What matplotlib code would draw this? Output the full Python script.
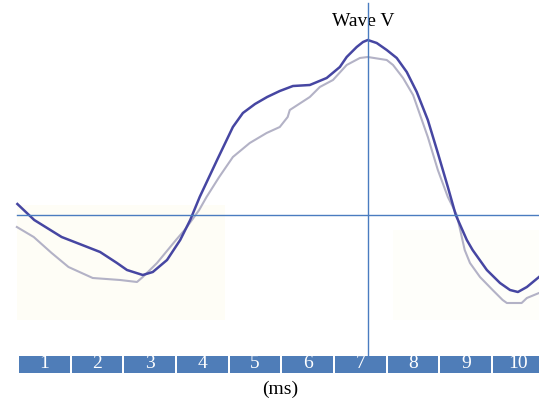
import numpy as np
import matplotlib.pyplot as plt
from matplotlib.patches import Rectangle

# curves: time (ms) and amplitude (arbitrary units, 0 = baseline)
t_dark = np.array([-0.03, 0.29, 0.81, 1.20, 1.54, 1.86, 2.05, 2.35, 2.54, 2.81, 3.06,
                   3.25, 3.43, 3.76, 4.06, 4.25, 4.48, 4.71, 4.95, 5.20, 5.52, 5.84,
                   6.09, 6.22, 6.41, 6.53, 6.62, 6.79, 6.98, 7.17, 7.36, 7.55, 7.76,
                   7.95, 8.14, 8.29, 8.50, 8.61, 8.88, 9.13, 9.32, 9.47, 9.64, 9.87])
v_dark = np.array([0.11, -0.05, -0.22, -0.30, -0.37, -0.48, -0.55, -0.60, -0.57, -0.45, -0.25,
                   -0.05, 0.18, 0.55, 0.88, 1.02, 1.11, 1.18, 1.24, 1.29, 1.30, 1.37,
                   1.48, 1.58, 1.68, 1.73, 1.75, 1.72, 1.65, 1.57, 1.43, 1.23, 0.95,
                   0.62, 0.28, 0.00, -0.25, -0.35, -0.55, -0.68, -0.75, -0.77, -0.72, -0.62])

t_gray = np.array([-0.04, 0.28, 0.62, 0.94, 1.40, 1.92, 2.24, 2.35, 2.62, 2.98, 3.16,
                   3.42, 3.56, 3.80, 4.06, 4.38, 4.70, 4.95, 5.10, 5.14, 5.52, 5.71,
                   5.96, 6.22, 6.47, 6.62, 6.98, 7.10, 7.29, 7.48, 7.76, 7.95, 8.14,
                   8.31, 8.46, 8.56, 8.75, 8.99, 9.18, 9.26, 9.54, 9.64, 9.87])
v_gray = np.array([-0.12, -0.22, -0.38, -0.52, -0.63, -0.65, -0.67, -0.62, -0.48, -0.25, -0.14,
                   0.05, 0.18, 0.38, 0.58, 0.72, 0.82, 0.88, 0.98, 1.05, 1.18, 1.28,
                   1.35, 1.50, 1.57, 1.58, 1.55, 1.50, 1.37, 1.20, 0.78, 0.45, 0.18,
                   0.00, -0.35, -0.48, -0.62, -0.75, -0.85, -0.88, -0.88, -0.83, -0.78])

box_labels = ['1', '2', '3', '4', '5', '6', '7', '8', '9', '10']
wave_v_time = 6.62

fig = plt.figure(figsize=(5.39, 4.04), dpi=100)
ax = fig.add_axes([0, 0, 1, 1])
ax.set_xlim(-0.36, 9.87)
ax.set_ylim(-1.89, 2.15)
ax.axis('off')

# very faint cream background patches
ax.add_patch(Rectangle((-0.04, -1.05), 3.95, 1.15, color='#fefdf6', lw=0, zorder=0))
ax.add_patch(Rectangle((7.1, -1.05), 2.8, 0.9, color='#fefefa', lw=0, zorder=0))

ax.plot(t_gray, v_gray, color='#b3b2c6', lw=1.5, solid_joinstyle='round', zorder=2)
ax.plot(t_dark, v_dark, color='#4646a2', lw=1.8, solid_joinstyle='round', zorder=3)

ax.plot([-0.04, 9.87], [0, 0], color='#4a7cc0', lw=1.0, zorder=4)
ax.plot([wave_v_time, wave_v_time], [2.12, -1.41], color='#4a7cc0', lw=1.0, zorder=4)
ax.text(6.53, 1.93, 'Wave V', ha='center', va='center',
        family='Liberation Serif', fontsize=14)

# time boxes
for i, lab in enumerate(box_labels):
    ax.bar(i, -0.17, width=0.96, bottom=-1.41, align='edge', color='#4f7db8', lw=0, zorder=3)
    ax.text(i + 0.48, -1.49, lab, ha='center', va='center', color='white',
            family='Liberation Serif', fontsize=14, zorder=5)

ax.text(4.95, -1.74, '(ms)', ha='center', va='center',
        family='Liberation Serif', fontsize=14)

plt.savefig('out.png', dpi=100)
